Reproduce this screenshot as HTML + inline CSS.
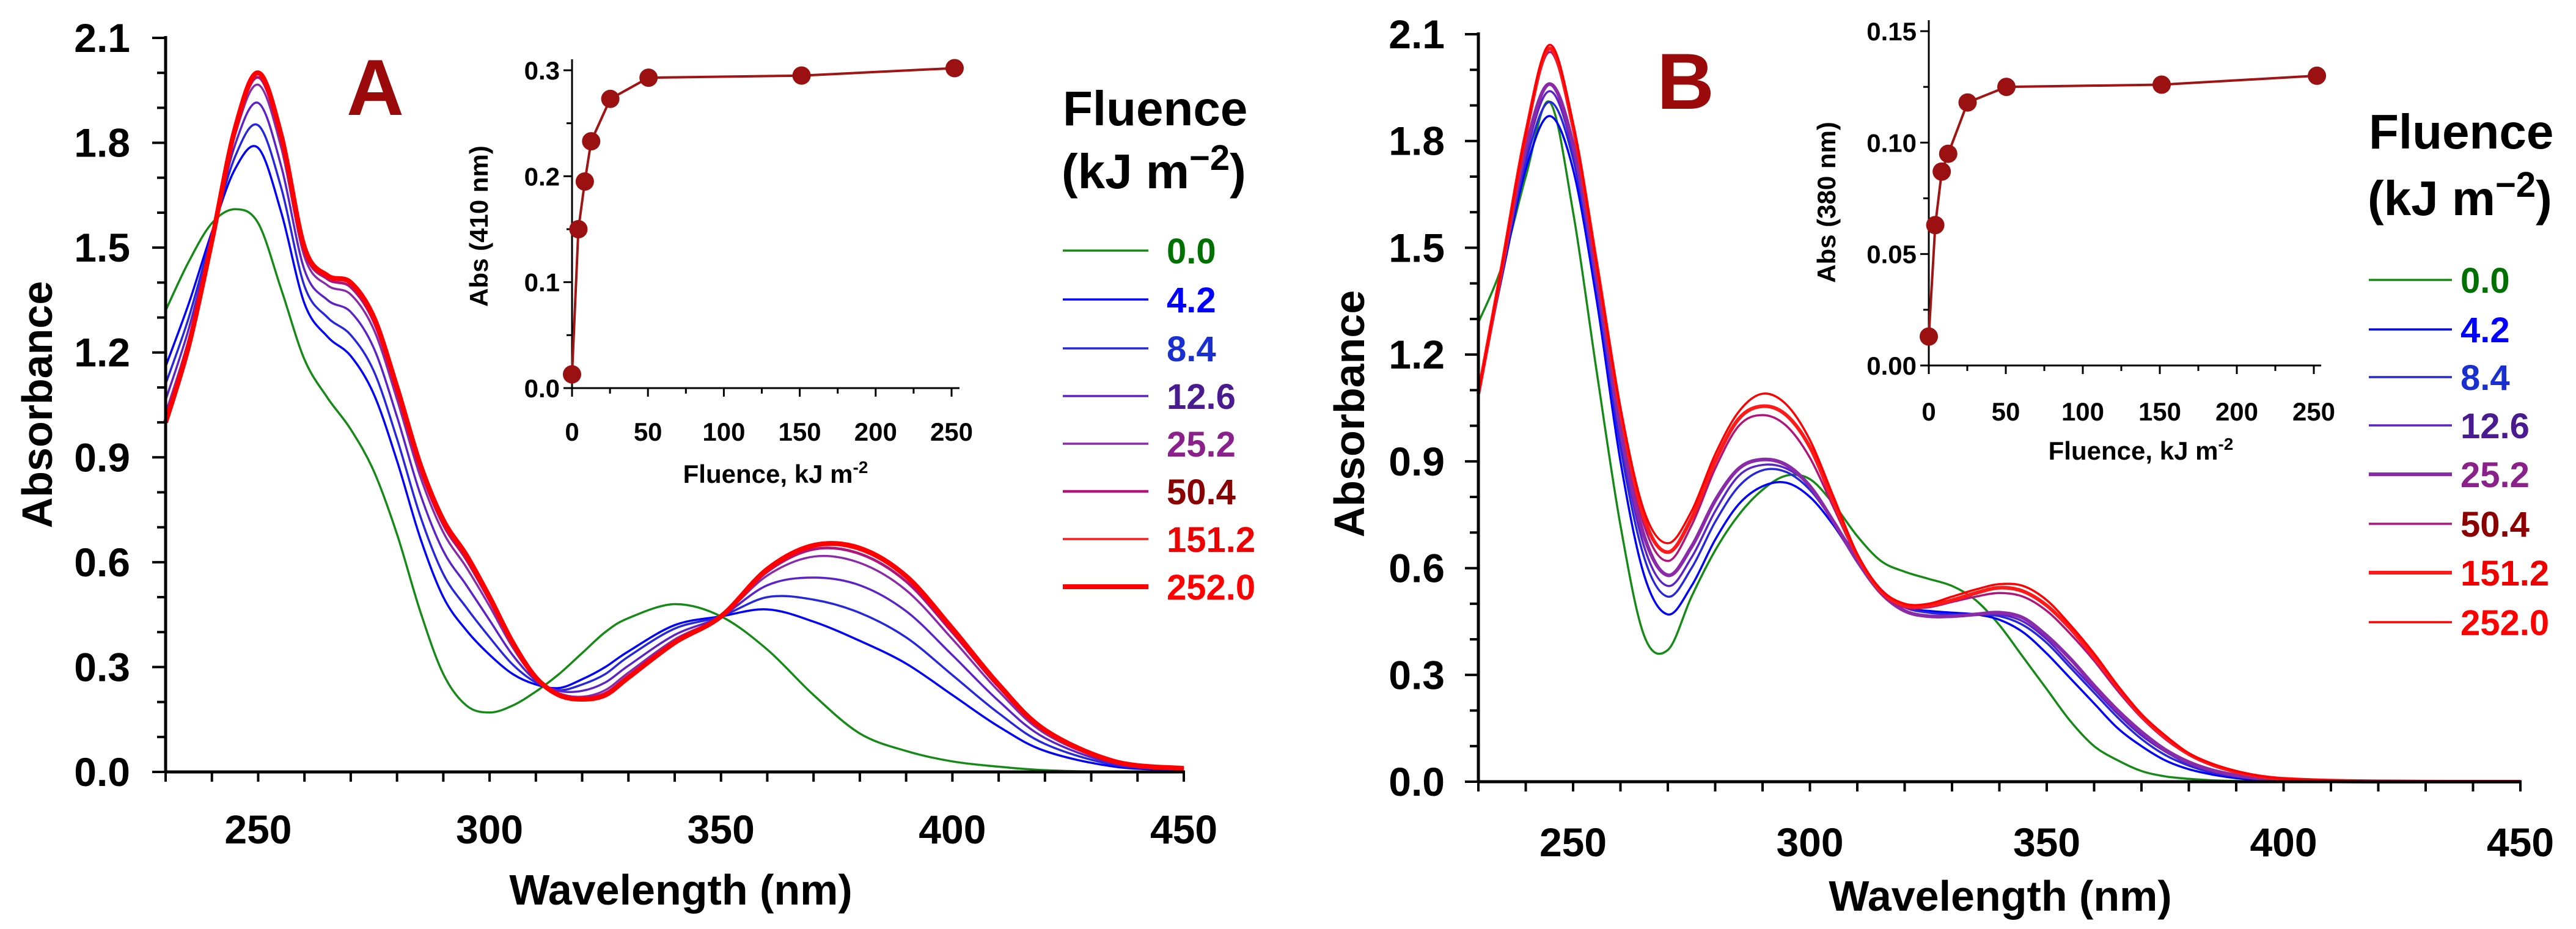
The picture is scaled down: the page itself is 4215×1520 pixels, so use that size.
<!DOCTYPE html>
<html><head><meta charset="utf-8">
<style>
html,body{margin:0;padding:0;background:#fff;}
svg{display:block;font-family:"Liberation Sans",Arial,sans-serif;}
</style></head>
<body>
<svg id="fig" width="4215" height="1520" viewBox="0 0 4215 1520" xmlns="http://www.w3.org/2000/svg"></svg>
<script>
// ---------- DATA ----------
const seriesLabels = ["0.0","4.2","8.4","12.6","25.2","50.4","151.2","252.0"];
const wavelengthsA = [230,235,240,245,250,255,260,265,270,275,280,285,290,295,300,305,310,315,320,325,330,340,350,360,370,380,390,400,410,420,435,450];
const specA0   = [1.32,1.46,1.57,1.61,1.57,1.38,1.18,1.07,0.98,0.86,0.68,0.46,0.28,0.19,0.17,0.19,0.23,0.28,0.34,0.40,0.44,0.48,0.445,0.35,0.22,0.11,0.06,0.03,0.015,0.005,0,0];
const specA1   = [1.16,1.34,1.545,1.725,1.785,1.60,1.34,1.245,1.19,1.08,0.89,0.67,0.50,0.405,0.335,0.28,0.25,0.24,0.265,0.30,0.345,0.42,0.445,0.465,0.43,0.375,0.31,0.22,0.13,0.06,0.015,0.005];
const specA2   = [1.11,1.30,1.537,1.76,1.85,1.67,1.39,1.30,1.25,1.146,0.953,0.733,0.566,0.47,0.385,0.307,0.256,0.234,0.25,0.28,0.33,0.41,0.445,0.50,0.493,0.455,0.385,0.277,0.168,0.08,0.02,0.0065];
const specA3   = [1.064,1.268,1.53,1.794,1.914,1.732,1.436,1.35,1.316,1.212,1.016,0.796,0.632,0.534,0.434,0.334,0.262,0.232,0.232,0.256,0.304,0.392,0.445,0.534,0.556,0.534,0.46,0.334,0.203,0.097,0.024,0.008];
const specA4   = [1.026,1.239,1.524,1.822,1.966,1.785,1.474,1.392,1.366,1.265,1.066,0.846,0.685,0.585,0.474,0.356,0.267,0.225,0.215,0.234,0.284,0.379,0.445,0.562,0.616,0.598,0.52,0.38,0.231,0.11,0.028,0.009];
const specA5   = [1.01,1.227,1.52,1.833,1.987,1.807,1.49,1.41,1.387,1.287,1.087,0.867,0.707,0.607,0.49,0.365,0.269,0.222,0.211,0.225,0.275,0.373,0.445,0.573,0.637,0.624,0.545,0.399,0.243,0.117,0.03,0.01];
const specA6   = [1.003,1.222,1.52,1.838,1.996,1.816,1.497,1.416,1.396,1.296,1.096,0.876,0.716,0.616,0.497,0.368,0.27,0.22,0.209,0.221,0.272,0.371,0.445,0.578,0.646,0.635,0.555,0.406,0.248,0.119,0.03,0.01];
const specA7   = [1.00,1.22,1.52,1.84,2.00,1.82,1.50,1.42,1.40,1.30,1.10,0.88,0.72,0.62,0.50,0.37,0.27,0.22,0.208,0.22,0.27,0.37,0.445,0.58,0.648,0.64,0.56,0.41,0.25,0.12,0.03,0.01];

const wavelengthsB = [230,235,240,245,250,255,260,265,270,275,280,285,290,295,300,305,310,315,320,325,330,335,340,345,350,355,360,365,370,375,380,385,390,395,400,410,420,435,450];
const specB0 = [1.29,1.45,1.70,1.91,1.60,1.15,0.72,0.41,0.37,0.52,0.65,0.75,0.82,0.86,0.85,0.78,0.69,0.62,0.59,0.57,0.55,0.51,0.44,0.35,0.26,0.17,0.10,0.06,0.03,0.015,0.008,0.004,0.002,0.001,0,0,0,0,0];
const specB1 = [1.09,1.42,1.72,1.87,1.72,1.35,0.90,0.58,0.47,0.55,0.68,0.78,0.83,0.84,0.80,0.72,0.62,0.54,0.49,0.48,0.475,0.47,0.455,0.42,0.36,0.29,0.22,0.15,0.10,0.06,0.035,0.02,0.01,0.005,0.003,0.001,0,0,0];
const specB2 = [1.09,1.43,1.74,1.91,1.75,1.38,0.94,0.63,0.52,0.60,0.73,0.83,0.875,0.87,0.82,0.73,0.63,0.54,0.49,0.475,0.47,0.47,0.465,0.44,0.39,0.32,0.25,0.18,0.12,0.075,0.045,0.025,0.014,0.007,0.004,0.001,0,0,0];
const specB3 = [1.09,1.43,1.76,1.94,1.77,1.40,0.97,0.66,0.55,0.63,0.76,0.86,0.89,0.88,0.83,0.73,0.62,0.53,0.48,0.465,0.465,0.47,0.47,0.45,0.40,0.33,0.26,0.19,0.13,0.085,0.05,0.03,0.016,0.008,0.004,0.001,0,0,0];
const specB4 = [1.09,1.44,1.78,1.96,1.79,1.41,0.99,0.69,0.58,0.66,0.79,0.88,0.905,0.89,0.83,0.73,0.62,0.53,0.48,0.465,0.465,0.47,0.475,0.46,0.41,0.345,0.27,0.20,0.14,0.09,0.055,0.032,0.018,0.009,0.005,0.001,0,0,0];
const specB5 = [1.09,1.45,1.81,2.05,1.83,1.44,1.03,0.72,0.62,0.72,0.88,1.00,1.03,1.00,0.91,0.77,0.63,0.53,0.49,0.49,0.505,0.52,0.53,0.52,0.48,0.415,0.34,0.255,0.18,0.12,0.075,0.045,0.026,0.014,0.008,0.003,0.001,0,0];
const specB6 = [1.09,1.45,1.82,2.06,1.84,1.45,1.04,0.74,0.645,0.74,0.90,1.02,1.055,1.03,0.94,0.785,0.635,0.535,0.495,0.495,0.51,0.53,0.545,0.535,0.495,0.43,0.35,0.265,0.185,0.125,0.078,0.048,0.028,0.015,0.008,0.003,0.001,0,0];
const specB7 = [1.09,1.45,1.82,2.07,1.85,1.45,1.05,0.76,0.67,0.76,0.92,1.04,1.09,1.06,0.96,0.80,0.64,0.54,0.50,0.50,0.52,0.54,0.555,0.55,0.51,0.44,0.36,0.27,0.19,0.13,0.08,0.05,0.03,0.016,0.009,0.004,0.001,0,0];

const insetFluence = [0,4.2,8.4,12.6,25.2,50.4,151.2,252];
const insetAbsA410 = [0.013,0.150,0.195,0.233,0.273,0.293,0.295,0.302];
const insetAbsB380 = [0.013,0.063,0.087,0.095,0.118,0.125,0.126,0.130];

const mainYTicks = ["0.0","0.3","0.6","0.9","1.2","1.5","1.8","2.1"];
const mainXTicks = ["250","300","350","400","450"];
const insetXTicks = ["0","50","100","150","200","250"];
const insetYTicksA = ["0.0","0.1","0.2","0.3"];
const insetYTicksB = ["0.00","0.05","0.10","0.15"];

// ---------- STYLE ----------
const lineColors = ["#168a16","#0000ff","#2626e0","#5a22c8","#8a2aa8","#b0147a","#ff1a1a","#ff0000"];
const labelColors = ["#007000","#0000ff","#1a2fd0","#4a1a90","#8a208a","#8b0000","#ee0000","#ff0000"];
const widthsA = [3.5,3.5,3.5,3.5,3.5,4.5,3.5,8];
const widthsB = [3.5,3.5,3.5,3.5,6,3.5,6,3.5];

const NS="http://www.w3.org/2000/svg";
const svg=document.getElementById('fig');
function el(tag,attrs,parent){const e=document.createElementNS(NS,tag);for(const k in attrs)e.setAttribute(k,attrs[k]);(parent||svg).appendChild(e);return e;}
function txt(s,attrs,parent){const t=el('text',attrs,parent);t.textContent=s;return t;}
function smoothPath(pts){
  let d="M"+pts[0][0].toFixed(1)+","+pts[0][1].toFixed(1);
  for(let i=0;i<pts.length-1;i++){
    const p0=pts[Math.max(0,i-1)],p1=pts[i],p2=pts[i+1],p3=pts[Math.min(pts.length-1,i+2)];
    const c1=[p1[0]+(p2[0]-p0[0])/6,p1[1]+(p2[1]-p0[1])/6];
    const c2=[p2[0]-(p3[0]-p1[0])/6,p2[1]-(p3[1]-p1[1])/6];
    d+=" C"+c1[0].toFixed(1)+","+c1[1].toFixed(1)+" "+c2[0].toFixed(1)+","+c2[1].toFixed(1)+" "+p2[0].toFixed(1)+","+p2[1].toFixed(1);
  }
  return d;
}

function panel(cfg){
  const g=el('g',{});
  
  
  const X=v=>cfg.x0+(v-230)/(450-230)*(cfg.x1-cfg.x0);
  const Y=v=>cfg.y0-(v/2.1)*(cfg.y0-cfg.y1);
  // series
  const sg=el('g',{},g);
  
  
  const order=cfg.order;
  order.forEach(i=>{
    const pts=cfg.wl.map((w,k)=>[X(w),Y(cfg.specs[i][k])]);
    const p=el('path',{d:smoothPath(pts),fill:'none',stroke:lineColors[i],'stroke-width':cfg.widths[i],'stroke-linejoin':'round'},sg);
    
    
  });
  // axes
  const ax=el('g',{},g);
  
  
  el('line',{x1:cfg.x0,y1:cfg.y1-3,x2:cfg.x0,y2:cfg.y0+2,stroke:'#000','stroke-width':5},ax);
  el('line',{x1:cfg.x0-2,y1:cfg.y0,x2:cfg.x1+2,y2:cfg.y0,stroke:'#000','stroke-width':5},ax);
  for(let k=0;k<=21;k++){
    const v=k/10, y=Y(v), major=(k%3===0);
    el('line',{x1:cfg.x0-(major?22:14),y1:y,x2:cfg.x0,y2:y,stroke:'#000','stroke-width':4},ax);
  }
  mainYTicks.forEach(s=>{
    const t=txt(s,{x:cfg.ylabX,y:Y(parseFloat(s))+23,'text-anchor':'end','font-size':66,'font-weight':'bold'},ax);
    
    
  });
  for(let w=230;w<=450;w+=10){
    el('line',{x1:X(w),y1:cfg.y0,x2:X(w),y2:cfg.y0+16,stroke:'#000','stroke-width':4},ax);
  }
  mainXTicks.forEach(s=>{
    const t=txt(s,{x:X(parseFloat(s)),y:cfg.xlabY,'text-anchor':'middle','font-size':66,'font-weight':'bold'},ax);
    
    
  });
  const xt=txt('Wavelength (nm)',{x:cfg.xtX,y:cfg.xtY,'text-anchor':'middle','font-size':70,'font-weight':'bold'},g);
  
  
  const yt=txt('Absorbance',{x:0,y:0,transform:'translate('+cfg.ytX+','+cfg.ytY+') rotate(-90)','text-anchor':'middle','font-size':70,'font-weight':'bold'},g);
  
  
  const pl=txt(cfg.letter,{x:cfg.letX,y:cfg.letY,'text-anchor':'middle','font-size':130,'font-weight':'bold',fill:'#9b0a0a'},g);
  
  
  // legend
  const lg=el('g',{},g);
  
  
  const t1=txt('Fluence',{x:cfg.legX0,y:cfg.legT1,'font-size':80,'font-weight':'bold'},lg);
  
  
  const t2=el('text',{x:cfg.legX0-2,y:cfg.legT2,'font-size':80,'font-weight':'bold'},lg);
  
  
  const a=el('tspan',{},t2);a.textContent='(kJ m';
  const b=el('tspan',{dy:-30,'font-size':58},t2);b.textContent='\u22122';
  const c=el('tspan',{dy:30},t2);c.textContent=')';
  seriesLabels.forEach((s,i)=>{
    const y=cfg.legRows[i];
    const e=el('g',{},lg);
    
    
    el('line',{x1:cfg.legX0,y1:y,x2:cfg.legX1,y2:y,stroke:lineColors[i],'stroke-width':cfg.widths[i]},e);
    txt(s,{x:cfg.legTX,y:y+21,'font-size':58,'font-weight':'bold',fill:labelColors[i]},e);
  });
  // inset
  const ins=cfg.inset;
  const ig=el('g',{},g);
  
  
  const IX=v=>ins.x0+v/250*(ins.x250-ins.x0);
  const IY=v=>ins.y0-v/ins.ymax*(ins.y0-ins.ytop);
  el('line',{x1:ins.x0,y1:ins.ytop-18,x2:ins.x0,y2:ins.y0+2,stroke:'#000','stroke-width':3},ig);
  el('line',{x1:ins.x0-2,y1:ins.y0,x2:ins.xend,y2:ins.y0,stroke:'#000','stroke-width':3},ig);
  ins.yt.forEach((s,k)=>{
    const v=parseFloat(s),y=IY(v);
    el('line',{x1:ins.x0-14,y1:y,x2:ins.x0,y2:y,stroke:'#000','stroke-width':3},ig);
    const t=txt(s,{x:ins.x0-20,y:y+15,'text-anchor':'end','font-size':42,'font-weight':'bold'},ig);
    
    
    if(k<ins.yt.length-1){const ym=IY(v+ins.ymax/(ins.yt.length-1)/2);el('line',{x1:ins.x0-9,y1:ym,x2:ins.x0,y2:ym,stroke:'#000','stroke-width':3},ig);}
  });
  for(let f=0;f<=250;f+=25){
    el('line',{x1:IX(f),y1:ins.y0,x2:IX(f),y2:ins.y0+(f%50===0?14:9),stroke:'#000','stroke-width':3},ig);
  }
  insetXTicks.forEach(s=>{
    const t=txt(s,{x:IX(parseFloat(s)),y:ins.xlabY,'text-anchor':'middle','font-size':42,'font-weight':'bold'},ig);
    
    
  });
  const ixt=el('text',{x:ins.xtX,y:ins.xtY,'text-anchor':'middle','font-size':42,'font-weight':'bold'},ig);
  
  
  const q1=el('tspan',{},ixt);q1.textContent='Fluence, kJ m';
  const q2=el('tspan',{dy:-16,'font-size':28},ixt);q2.textContent='-2';
  const iyt=txt(ins.ytitle,{x:0,y:0,transform:'translate('+ins.ytX+','+ins.ytY+') rotate(-90)','text-anchor':'middle','font-size':42,'font-weight':'bold'},ig);
  
  
  const ipts=insetFluence.map((f,k)=>IX(f).toFixed(1)+','+IY(ins.vals[k]).toFixed(1)).join(' ');
  const il=el('polyline',{points:ipts,fill:'none',stroke:'#a01414','stroke-width':4},ig);
  
  
  insetFluence.forEach((f,k)=>{
    const m=el('circle',{cx:IX(f),cy:IY(ins.vals[k]),r:15,fill:'#9b1010'},ig);
    
    
  });
}

panel({name:'panel-a',letter:'A',x0:271,x1:1937,y0:1263,y1:62,
  wl:wavelengthsA,specs:[specA0,specA1,specA2,specA3,specA4,specA5,specA6,specA7],
  order:[0,1,2,3,4,5,6,7],widths:widthsA,
  ylabX:213,xlabY:1380,xtX:1114,xtY:1480,ytX:85,ytY:662,letX:614,letY:188,
  legX0:1739,legX1:1879,legTX:1909,legT1:205,legT2:308,legRows:[410,490,570,648,726,804,882,960],
  inset:{x0:936,x250:1557,xend:1570,y0:635,ytop:115,ymax:0.3,yt:insetYTicksA,vals:insetAbsA410,
    xlabY:721,xtX:1269,xtY:790,ytX:798,ytY:370,ytitle:'Abs (410 nm)'}});

panel({name:'panel-b',letter:'B',x0:2419,x1:4124,y0:1279,y1:56,
  wl:wavelengthsB,specs:[specB0,specB1,specB2,specB3,specB4,specB5,specB6,specB7],
  order:[0,1,2,3,4,5,6,7],widths:widthsB,
  ylabX:2364,xlabY:1401,xtX:3273,xtY:1490,ytX:2232,ytY:677,letX:2758,letY:178,
  legX0:3876,legX1:4012,legTX:4026,legT1:243,legT2:352,legRows:[458,539,617,696,776,857,937,1018],
  inset:{x0:3156,x250:3786,xend:3798,y0:598,ytop:51,ymax:0.15,yt:insetYTicksB,vals:insetAbsB380,
    xlabY:688,xtX:3503,xtY:752,ytX:3003,ytY:331,ytitle:'Abs (380 nm)'}});
</script>
</body></html>
